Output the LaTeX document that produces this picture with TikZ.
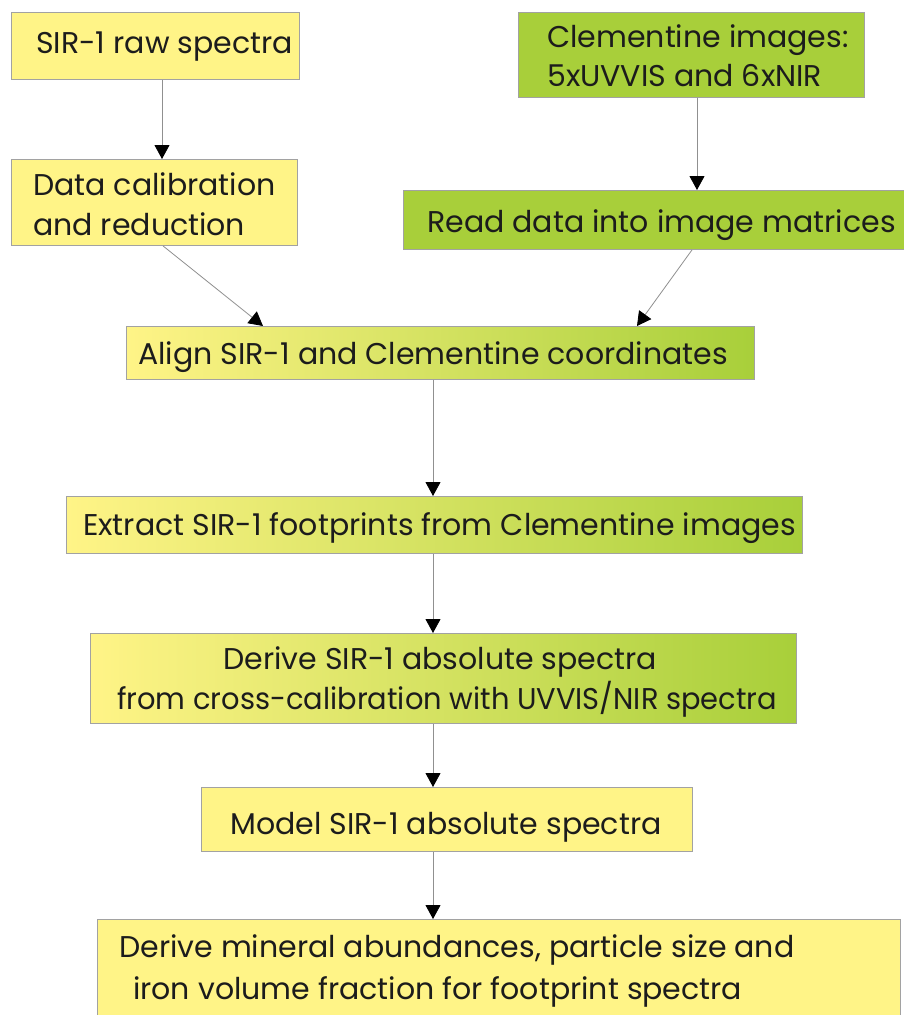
\documentclass[tikz,border=0pt]{standalone}
\usepackage{fontspec}
\setmainfont{Poppins}
\newfontfamily\narrowpop[FakeStretch=0.963]{Poppins}
\usetikzlibrary{arrows.meta}
\definecolor{yel}{HTML}{FFF487}
\definecolor{grn}{HTML}{A8CF3A}
\definecolor{edge}{HTML}{A2A2A2}
\definecolor{line}{HTML}{909090}
\definecolor{ink}{HTML}{1C1C1C}
\tikzset{
  box/.style={draw=edge, line width=0.9pt, inner sep=0pt, anchor=north west},
  ybox/.style={box, fill=yel},
  gbox/.style={box, fill=grn},
  mbox/.style={box, left color=yel, right color=grn},
  lbl/.style={anchor=base west, inner sep=0pt, text=ink, font=\fontsize{30}{39}\selectfont},
  conn/.style={draw=line, line width=0.8pt, -{Triangle[length=14pt,width=15pt,color=black]}},
}
\begin{document}
\begin{tikzpicture}[x=1pt,y=-1pt]
\useasboundingbox (0,0) rectangle (904,1015);
\clip (0,0) rectangle (904,1015);
\fill[white] (0,0) rectangle (904,1015);
% boxes
\node[ybox, minimum width=288pt, minimum height=67pt] (b1) at (11,12) {};
\node[ybox, minimum width=286pt, minimum height=86pt] (b2) at (11,159) {};
\node[gbox, minimum width=346pt, minimum height=85pt] (b3) at (518,12) {};
\node[gbox, minimum width=507pt, minimum height=59pt] (b4) at (403,190) {};
\node[mbox, minimum width=628pt, minimum height=53pt] (b5) at (126,326) {};
\node[mbox, minimum width=736pt, minimum height=57pt] (b6) at (66,496) {};
\node[mbox, minimum width=706pt, minimum height=90pt] (b7) at (90,633) {};
\node[ybox, minimum width=491pt, minimum height=64pt] (b8) at (201,787) {};
\node[ybox, minimum width=803pt, minimum height=110pt] (b9) at (97,919) {};
% texts
\node[lbl] (t1) at (36,53) {SIR-1 raw spectra};
\node[lbl] (t2a) at (33,195) {Data calibration};
\node[lbl] (t2b) at (33,235) {and reduction};
\node[lbl] (t3a) at (547,47) {Clementine images:};
\node[lbl] (t3b) at (547,86) {5xUVVIS and 6xNIR};
\node[lbl] (t4) at (427,232) {Read data into image matrices};
\node[lbl] (t5) at (138,364) {Align SIR-1 and Clementine coordinates};
\node[lbl] (t6) at (83,535) {Extract SIR-1 footprints from Clementine images};
\node[lbl] (t7a) at (223,669) {Derive SIR-1 absolute spectra};
\node[lbl] (t7b) at (117,709) {\narrowpop from cross-calibration with UVVIS/NIR spectra};
\node[lbl] (t8) at (230,834) {Model SIR-1 absolute spectra};
\node[lbl] (t9a) at (119,957) {Derive mineral abundances, particle size and};
\node[lbl] (t9b) at (133,999) {iron volume fraction for footprint spectra};
% connector columns
\coordinate (xa) at (162,0);
\coordinate (xb) at (697,0);
\coordinate (xc) at (163,0);
\coordinate (xd) at (263,0);
\coordinate (xe) at (692,0);
\coordinate (xf) at (637,0);
\coordinate (xm) at (433,0);
% connectors
\draw[conn] (b1.south -| xa) -- (b2.north -| xa);
\draw[conn] (b3.south -| xb) -- (b4.north -| xb);
\draw[conn] (b2.south -| xc) -- (b5.north -| xd);
\draw[conn] (b4.south -| xe) -- (b5.north -| xf);
\draw[conn] (b5.south -| xm) -- (b6.north -| xm);
\draw[conn] (b6.south -| xm) -- (b7.north -| xm);
\draw[conn] (b7.south -| xm) -- (b8.north -| xm);
\draw[conn] (b8.south -| xm) -- (b9.north -| xm);
\end{tikzpicture}
\end{document}
